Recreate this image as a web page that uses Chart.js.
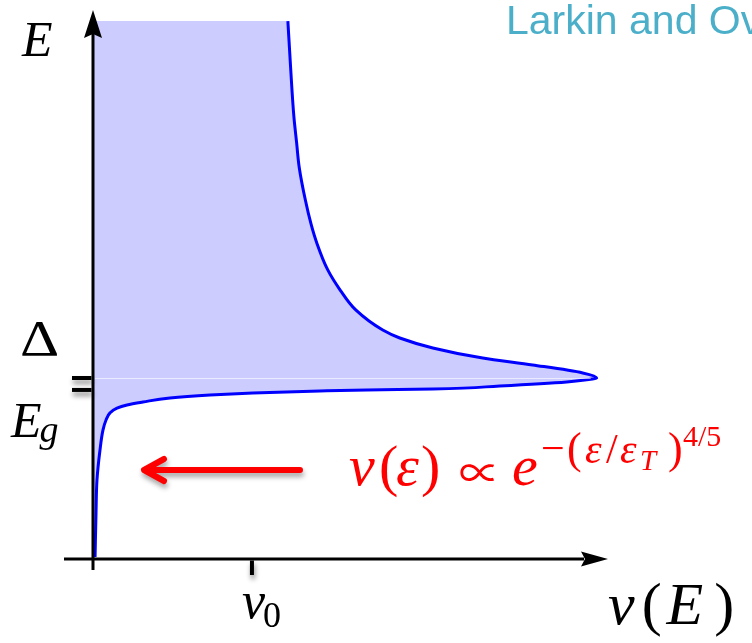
<!DOCTYPE html>
<html>
<head>
<meta charset="utf-8">
<script src="https://cdn.jsdelivr.net/npm/chart.js@4/dist/chart.umd.min.js"></script>
<style>
  html, body { margin: 0; padding: 0; background: #ffffff; }
  canvas { display: block; }
</style>
</head>
<body>
<canvas id="dos" width="752" height="643"></canvas>
<script>
// Density of states ν(E) of a disordered superconductor.
// Energy in units of Δ, density in units of ν0 (normal-state value).
const energy = [
  0.011, 0.254, 0.436, 0.602, 0.713, 0.768, 0.807, 0.834, 0.851, 0.867,
  0.890, 0.906, 0.917, 0.928, 0.934, 0.939, 0.956, 0.978, 0.994, 1.000,
  1.028, 1.072, 1.110, 1.166, 1.221, 1.265, 1.376, 1.486, 1.597, 1.746,
  1.850, 1.983, 2.166, 2.300, 2.442, 2.718, 2.972
];
const density = [
  0.013, 0.019, 0.025, 0.044, 0.063, 0.082, 0.107, 0.151, 0.214, 0.314,
  0.484, 0.736, 1.006, 1.427, 1.723, 2.138, 2.559, 2.980, 3.143, 3.169,
  3.081, 2.766, 2.452, 2.138, 1.930, 1.823, 1.653, 1.555, 1.477, 1.408,
  1.372, 1.336, 1.297, 1.281, 1.264, 1.243, 1.226
];

// Marked energies on the vertical axis: the gap Δ and the edge E_g
const energyTicks = [1.0, 0.934];
const energyTickLabels = ['Δ', 'E_g'];
// Marked density on the horizontal axis
const densityTicks = [1.0];
const densityTickLabels = ['ν_0'];

const points = energy.map((e, i) => ({ x: density[i], y: e }));

const SERIF = '"Liberation Serif", "DejaVu Serif", serif';

// Draws "base_sub" text: italic base letter followed by a lowered subscript
function drawSubLabel(ctx, label, x, baseline, size, subSize, subDrop, subItalic) {
  const [base, sub] = label.split('_');
  ctx.font = `italic ${size}px ${SERIF}`;
  ctx.fillText(base, x, baseline);
  const w = ctx.measureText(base).width;
  if (sub) {
    ctx.font = `${subItalic ? 'italic ' : ''}${subSize}px ${SERIF}`;
    ctx.fillText(sub, x + w - 2, baseline + subDrop);
  }
}

// Draws a glyph scaled to a given ink width
function drawFitted(ctx, text, font, x, baseline, width) {
  ctx.save();
  ctx.font = font;
  const m = ctx.measureText(text);
  const inkW = (m.actualBoundingBoxRight + m.actualBoundingBoxLeft) || m.width;
  const s = width / inkW;
  ctx.translate(x + m.actualBoundingBoxLeft * s, baseline);
  ctx.scale(s, s);
  ctx.fillText(text, 0, 0);
  ctx.restore();
}

// Draws a run of [text, font, gapBefore] pieces on one baseline
function drawRun(ctx, pieces, x, baseline) {
  let cx = x;
  pieces.forEach(([t, f, gap]) => {
    cx += gap;
    ctx.font = f;
    ctx.fillText(t, cx, baseline);
    cx += ctx.measureText(t).width;
  });
}

const decor = {
  id: 'dosDecor',
  afterDatasetsDraw(chart) {
    const { ctx, scales: { x, y } } = chart;
    const x0 = x.getPixelForValue(0);
    const y0 = y.getPixelForValue(0);
    const xTip = x.getPixelForValue(x.max);
    const yTip = y.getPixelForValue(y.max);

    ctx.save();

    // faint guide at Δ running through the shaded band up to the peak
    let peak = 0;
    density.forEach((d, i) => { if (d > density[peak]) peak = i; });
    const yDelta = Math.round(y.getPixelForValue(energyTicks[0])) + 0.5;
    ctx.strokeStyle = 'rgba(255,255,255,0.6)';
    ctx.lineWidth = 1;
    ctx.beginPath();
    ctx.moveTo(x0 + 2, yDelta);
    ctx.lineTo(x.getPixelForValue(density[peak]) - 6, yDelta);
    ctx.stroke();

    // axes
    ctx.strokeStyle = '#000';
    ctx.fillStyle = '#000';
    ctx.lineWidth = 3;
    ctx.lineCap = 'butt';
    ctx.beginPath();
    ctx.moveTo(x0, y0 + 11);
    ctx.lineTo(x0, yTip + 24);
    ctx.stroke();
    ctx.beginPath();
    ctx.moveTo(x0 - 29, y0);
    ctx.lineTo(xTip - 24, y0);
    ctx.stroke();

    // arrow heads
    ctx.beginPath();
    ctx.moveTo(x0, yTip);
    ctx.lineTo(x0 + 9, yTip + 28);
    ctx.lineTo(x0, yTip + 24);
    ctx.lineTo(x0 - 9, yTip + 28);
    ctx.closePath();
    ctx.fill();
    ctx.beginPath();
    ctx.moveTo(xTip, y0);
    ctx.lineTo(xTip - 27, y0 - 7.5);
    ctx.lineTo(xTip - 23, y0);
    ctx.lineTo(xTip - 27, y0 + 7.5);
    ctx.closePath();
    ctx.fill();

    // tick marks with a soft drop shadow
    ctx.save();
    ctx.shadowColor = 'rgba(0,0,0,0.45)';
    ctx.shadowBlur = 5;
    ctx.shadowOffsetX = 1;
    ctx.shadowOffsetY = 4;
    ctx.lineWidth = 4;
    energyTicks.forEach(v => {
      const py = y.getPixelForValue(v);
      ctx.beginPath();
      ctx.moveTo(x0 - 21, py);
      ctx.lineTo(x0 - 1.5, py);
      ctx.stroke();
    });
    densityTicks.forEach(v => {
      const px = x.getPixelForValue(v);
      ctx.beginPath();
      ctx.moveTo(px, y0 + 1.5);
      ctx.lineTo(px, y0 + 16);
      ctx.stroke();
    });
    ctx.restore();

    // axis labels
    ctx.fillStyle = '#000';
    ctx.textBaseline = 'alphabetic';
    ctx.textAlign = 'left';
    ctx.font = `italic 50px ${SERIF}`;
    ctx.fillText('E', x0 - 71, yTip + 46);

    // Δ
    const pyDelta = y.getPixelForValue(energyTicks[0]);
    ctx.save();
    ctx.translate(x0 - 73, pyDelta - 23);
    ctx.scale(1.22, 1);
    ctx.font = `50px ${SERIF}`;
    ctx.fillText(energyTickLabels[0], 0, 0);
    ctx.restore();

    // E_g
    const pyGap = y.getPixelForValue(energyTicks[1]);
    drawSubLabel(ctx, energyTickLabels[1], x0 - 82, pyGap + 47, 50, 38, 5, true);

    // ν_0
    const pxNu0 = x.getPixelForValue(densityTicks[0]);
    drawSubLabel(ctx, densityTickLabels[0], pxNu0 - 10, y0 + 59, 52, 36, 9, false);

    // ν(E)
    drawRun(ctx, [
      ['ν', `italic 60px ${SERIF}`, 0],
      ['(', `60px ${SERIF}`, 7],
      ['E', `italic 60px ${SERIF}`, 5],
      [')', `60px ${SERIF}`, 11]
    ], xTip, y0 + 65);

    // red arrow pointing toward the sub-gap tail
    ctx.save();
    ctx.strokeStyle = '#ff0000';
    ctx.lineWidth = 6;
    ctx.lineCap = 'round';
    ctx.lineJoin = 'round';
    ctx.shadowColor = 'rgba(0,0,0,0.35)';
    ctx.shadowBlur = 5;
    ctx.shadowOffsetX = 1;
    ctx.shadowOffsetY = 4;
    ctx.beginPath();
    ctx.moveTo(300, 470);
    ctx.lineTo(145, 470);
    ctx.moveTo(164, 459);
    ctx.lineTo(144, 470);
    ctx.lineTo(164, 481);
    ctx.stroke();
    ctx.restore();

    // tail formula ν(ε) ∝ e^{-(ε/ε_T)^{4/5}}
    ctx.fillStyle = '#ff0000';
    const it = s => `italic ${s}px ${SERIF}`;
    const up = s => `${s}px ${SERIF}`;
    const runs = [
      ['ν', it(58), 349, 485], ['(', up(58), 379, 485], ['ε', it(58), 396, 485],
      [')', up(58), 421, 485], ['e', it(58), 512, 485],
      ['−', up(42), 541, 462], ['(', up(44), 567, 463], ['ε', it(42), 585, 463],
      ['/', up(42), 606, 463], ['ε', it(42), 620, 463], ['T', it(29), 640, 470],
      [')', up(44), 668, 463], ['4/5', up(30), 683, 446]
    ];
    runs.forEach(([t, f, px, py]) => { ctx.font = f; ctx.fillText(t, px, py); });
    drawFitted(ctx, '∝', '40px "Noto Sans CJK JP", "DejaVu Sans", sans-serif', 460, 488, 35);

    // reference caption, running off the right edge
    ctx.fillStyle = '#4bafc9';
    ctx.font = '41px "Liberation Sans", Arial, sans-serif';
    ctx.fillText('Larkin and Ovchinnikov', 506, 34);

    ctx.restore();
  }
};

new Chart(document.getElementById('dos'), {
  type: 'line',
  data: {
    datasets: [{
      data: points,
      borderColor: '#0000ff',
      borderWidth: 3,
      backgroundColor: '#ccccff',
      fill: 'origin',
      pointRadius: 0,
      cubicInterpolationMode: 'monotone'
    }]
  },
  options: {
    indexAxis: 'y',
    responsive: false,
    devicePixelRatio: 1,
    animation: false,
    layout: { padding: { left: 93, right: 144, top: 10, bottom: 84 } },
    scales: {
      x: { type: 'linear', min: 0, max: 3.24, display: false },
      y: { type: 'linear', min: 0, max: 3.033, display: false }
    },
    plugins: {
      legend: { display: false },
      title: { display: false },
      tooltip: { enabled: false }
    }
  },
  plugins: [decor]
});
</script>
</body>
</html>
